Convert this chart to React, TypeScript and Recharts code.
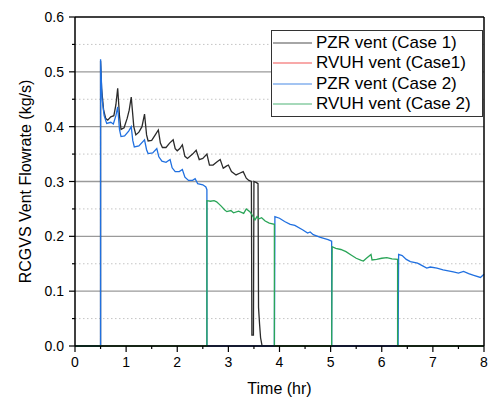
import { LineChart, Line, XAxis, YAxis, ReferenceLine, Legend, Label } from "recharts";

// Case 1 - PZR vent
const pzrCase1Time = [
  0, 0.5, 0.5, 0.52, 0.56, 0.6, 0.64, 0.7, 0.76, 0.8, 0.835, 0.87, 0.9, 0.96, 1.02, 1.06, 1.1, 1.15, 1.19, 1.25,
  1.31, 1.36, 1.4, 1.43, 1.5, 1.57, 1.63, 1.67, 1.71, 1.78, 1.85, 1.92, 1.96, 2.0, 2.05, 2.1, 2.15, 2.2, 2.3, 2.37,
  2.43, 2.5, 2.58, 2.63, 2.7, 2.78, 2.84, 2.9, 2.96, 3.0, 3.06, 3.15, 3.22, 3.29, 3.35, 3.4, 3.45, 3.46, 3.49, 3.5,
  3.55, 3.58, 3.59, 3.61, 3.63, 3.66, 8,
];
const pzrCase1Flow = [
  0, 0, 0.52, 0.47, 0.43, 0.415, 0.412, 0.418, 0.42, 0.44, 0.47, 0.42, 0.395, 0.398, 0.415, 0.43, 0.454, 0.4, 0.385, 0.39,
  0.4, 0.423, 0.385, 0.374, 0.375, 0.385, 0.394, 0.37, 0.362, 0.362, 0.37, 0.376, 0.36, 0.356, 0.36, 0.367, 0.346, 0.342, 0.35, 0.357,
  0.34, 0.342, 0.35, 0.33, 0.33, 0.336, 0.34, 0.324, 0.328, 0.33, 0.318, 0.312, 0.315, 0.318, 0.306, 0.302, 0.3, 0.02, 0.02, 0.3,
  0.298, 0.296, 0.07, 0.04, 0.015, 0, 0,
];

// Case 1 - RVUH vent (stays at zero)
const rvuhCase1Time = [0, 8];
const rvuhCase1Flow = [0, 0];

// Case 2 - PZR vent
const pzrCase2Time = [
  0, 0.5, 0.5, 0.53, 0.57, 0.62, 0.7, 0.75, 0.8, 0.835, 0.87, 0.9, 0.97, 1.05, 1.1, 1.13, 1.16, 1.25, 1.36, 1.4,
  1.43, 1.52, 1.6, 1.64, 1.7, 1.78, 1.86, 1.9, 1.96, 2.04, 2.1, 2.15, 2.22, 2.3, 2.35, 2.4, 2.5, 2.56, 2.58, 2.58,
  3.9, 3.91, 4.0, 4.1, 4.21, 4.3, 4.45, 4.55, 4.6, 4.66, 4.8, 4.95, 5.02, 5.02, 6.32, 6.33, 6.4, 6.48, 6.56, 6.7,
  6.8, 6.88, 6.95, 7.08, 7.2, 7.3, 7.4, 7.5, 7.6, 7.7, 7.8, 7.93, 8,
];
const pzrCase2Flow = [
  0, 0, 0.523, 0.45, 0.42, 0.406, 0.408, 0.405, 0.42, 0.436, 0.395, 0.382, 0.383, 0.392, 0.4, 0.375, 0.363, 0.365, 0.376, 0.358,
  0.351, 0.352, 0.36, 0.345, 0.337, 0.335, 0.34, 0.325, 0.318, 0.318, 0.322, 0.308, 0.302, 0.302, 0.305, 0.296, 0.294, 0.29, 0.285, 0,
  0, 0.236, 0.233, 0.227, 0.222, 0.22, 0.212, 0.206, 0.208, 0.203, 0.198, 0.194, 0.191, 0, 0, 0.167, 0.165, 0.158, 0.154, 0.151,
  0.146, 0.142, 0.144, 0.142, 0.139, 0.137, 0.135, 0.133, 0.136, 0.132, 0.129, 0.125, 0.131,
];

// Case 2 - RVUH vent
const rvuhCase2Time = [
  0, 2.58, 2.58, 2.65, 2.72, 2.77, 2.85, 2.93, 2.97, 3.05, 3.1, 3.2, 3.3, 3.35, 3.42, 3.47, 3.52, 3.56, 3.6, 3.65,
  3.72, 3.8, 3.9, 3.9, 5.02, 5.03, 5.1, 5.2, 5.3, 5.4, 5.5, 5.6, 5.64, 5.7, 5.79, 5.81, 5.9, 6.0, 6.1, 6.2,
  6.31, 6.31, 8,
];
const rvuhCase2Flow = [
  0, 0, 0.265, 0.264, 0.265, 0.263, 0.256, 0.248, 0.245, 0.247, 0.243, 0.246, 0.242, 0.25, 0.245, 0.238, 0.23, 0.236, 0.232, 0.234,
  0.228, 0.224, 0.222, 0, 0, 0.181, 0.178, 0.176, 0.172, 0.166, 0.16, 0.156, 0.155, 0.16, 0.167, 0.157, 0.158, 0.16, 0.161, 0.159,
  0.158, 0, 0,
];

const xTicks = [0, 0.5, 1, 1.5, 2, 2.5, 3, 3.5, 4, 4.5, 5, 5.5, 6, 6.5, 7, 7.5, 8];
const yTicks = [0, 0.05, 0.1, 0.15, 0.2, 0.25, 0.3, 0.35, 0.4, 0.45, 0.5, 0.55, 0.6];
const yMajorGrid = [0.1, 0.2, 0.3, 0.4, 0.5];
const yMinorGrid = [0.05, 0.15, 0.25, 0.35, 0.45, 0.55];

const FONT = "'Liberation Sans', Arial, sans-serif";
const W = 488;
const H = 399;
const PLOT_LEFT = 75;
const PLOT_TOP = 17;
const PLOT_RIGHT = 484;
const PLOT_BOTTOM = 346;

const toPoints = (time: number[], flow: number[]) => time.map((t, i) => ({ t, v: flow[i] }));

const series = [
  { name: "PZR vent (Case 1)", color: "#2a2a2a", data: toPoints(pzrCase1Time, pzrCase1Flow) },
  { name: "RVUH vent (Case1)", color: "#f03030", data: toPoints(rvuhCase1Time, rvuhCase1Flow) },
  { name: "PZR vent (Case 2)", color: "#2070e0", data: toPoints(pzrCase2Time, pzrCase2Flow) },
  { name: "RVUH vent (Case 2)", color: "#2aa558", data: toPoints(rvuhCase2Time, rvuhCase2Flow) },
];

const isMajorY = (v: number) => Math.abs(v * 10 - Math.round(v * 10)) < 1e-6;
const isMajorX = (v: number) => Math.abs(v - Math.round(v)) < 1e-6;

const LeftTick = (props: any) => {
  const { y, payload } = props;
  const major = isMajorY(payload.value);
  return (
    <g>
      <line x1={PLOT_LEFT} x2={PLOT_LEFT - (major ? 6 : 3)} y1={y} y2={y} stroke="#000" strokeWidth={1.2} />
      {major && (
        <text x={PLOT_LEFT - 11} y={y} dy="0.36em" textAnchor="end" fontSize={14} fontFamily={FONT} fill="#000">
          {payload.value.toFixed(1)}
        </text>
      )}
    </g>
  );
};

const RightTick = (props: any) => {
  const { y, payload } = props;
  const major = isMajorY(payload.value);
  return <line x1={PLOT_RIGHT} x2={PLOT_RIGHT - (major ? 6 : 3)} y1={y} y2={y} stroke="#000" strokeWidth={1.2} />;
};

const BottomTick = (props: any) => {
  const { x, payload } = props;
  const major = isMajorX(payload.value);
  return (
    <g>
      <line x1={x} x2={x} y1={PLOT_BOTTOM} y2={PLOT_BOTTOM + (major ? 6 : 3)} stroke="#000" strokeWidth={1.2} />
      {major && (
        <text x={x} y={PLOT_BOTTOM + 16} dy="0.36em" textAnchor="middle" fontSize={14} fontFamily={FONT} fill="#000">
          {payload.value}
        </text>
      )}
    </g>
  );
};

const TopTick = (props: any) => {
  const { x, payload } = props;
  const major = isMajorX(payload.value);
  return <line x1={x} x2={x} y1={PLOT_TOP} y2={PLOT_TOP + (major ? 6 : 3)} stroke="#000" strokeWidth={1.2} />;
};

// legend keeps the series order (recharts would sort it by name)
const LegendBox = () => (
  <div
    style={{
      border: "1.5px solid #333",
      background: "#fff",
      boxSizing: "border-box",
      width: 212,
      height: 87,
      paddingTop: 2,
      fontFamily: FONT,
      fontSize: 17,
      color: "#000",
    }}
  >
    {series.map((s) => (
      <div key={s.name} style={{ display: "flex", alignItems: "center", height: 20.3 }}>
        <svg width={44} height={20} style={{ flex: "none" }}>
          <line x1={1} x2={40} y1={10} y2={10} stroke={s.color} strokeWidth={1.5} opacity={0.55} />
        </svg>
        <span style={{ whiteSpace: "nowrap", lineHeight: "20px" }}>{s.name}</span>
      </div>
    ))}
  </div>
);

export default function App() {
  return (
    <div style={{ position: "absolute", left: 0, top: 0, width: W, height: H, background: "#fff" }}>
      <LineChart width={W} height={H} margin={{ top: 16, right: 3, bottom: 0, left: 0 }}>
        <XAxis
          xAxisId="b"
          dataKey="t"
          type="number"
          domain={[0, 8]}
          ticks={xTicks}
          interval={0}
          height={53}
          tickLine={false}
          tick={BottomTick}
          axisLine={{ stroke: "#000", strokeWidth: 1.5 }}
        >
          <Label
            content={() => (
              <text
                x={(PLOT_LEFT + PLOT_RIGHT) / 2}
                y={388}
                dy="0.36em"
                textAnchor="middle"
                fontSize={16}
                fontFamily={FONT}
                fill="#000"
              >
                Time (hr)
              </text>
            )}
          />
        </XAxis>
        <XAxis
          xAxisId="top"
          orientation="top"
          dataKey="t"
          type="number"
          domain={[0, 8]}
          ticks={xTicks}
          interval={0}
          height={1}
          tickLine={false}
          tick={TopTick}
          axisLine={{ stroke: "#000", strokeWidth: 1.5 }}
        />
        <YAxis
          yAxisId="l"
          type="number"
          domain={[0, 0.6]}
          ticks={yTicks}
          interval={0}
          width={75}
          tickLine={false}
          tick={LeftTick}
          axisLine={{ stroke: "#000", strokeWidth: 1.5 }}
        >
          <Label
            content={() => (
              <text
                x={25}
                y={(PLOT_TOP + PLOT_BOTTOM) / 2}
                dy="0.36em"
                transform={`rotate(-90 25 ${(PLOT_TOP + PLOT_BOTTOM) / 2})`}
                textAnchor="middle"
                fontSize={16}
                fontFamily={FONT}
                fill="#000"
              >
                RCGVS Vent Flowrate (kg/s)
              </text>
            )}
          />
        </YAxis>
        <YAxis
          yAxisId="r"
          orientation="right"
          type="number"
          domain={[0, 0.6]}
          ticks={yTicks}
          interval={0}
          width={1}
          tickLine={false}
          tick={RightTick}
          axisLine={{ stroke: "#000", strokeWidth: 1.5 }}
        />

        {yMinorGrid.map((v) => (
          <ReferenceLine key={`mi${v}`} xAxisId="b" yAxisId="l" y={v} stroke="#c4c4c4" strokeDasharray="1.5 2.5" />
        ))}
        {yMajorGrid.map((v) => (
          <ReferenceLine key={`ma${v}`} xAxisId="b" yAxisId="l" y={v} stroke="#9a9a9a" strokeWidth={1.3} />
        ))}

        <Legend
          layout="vertical"
          align="center"
          verticalAlign="middle"
          content={LegendBox}
          wrapperStyle={{ position: "absolute", left: 271, top: 30, width: 212, height: 87 }}
        />

        {series.map((s) => (
          <Line
            key={s.name}
            xAxisId="b"
            yAxisId="l"
            data={s.data}
            dataKey="v"
            name={s.name}
            type="linear"
            stroke={s.color}
            strokeWidth={1.3}
            dot={false}
            activeDot={false}
            isAnimationActive={false}
          />
        ))}
      </LineChart>
    </div>
  );
}
